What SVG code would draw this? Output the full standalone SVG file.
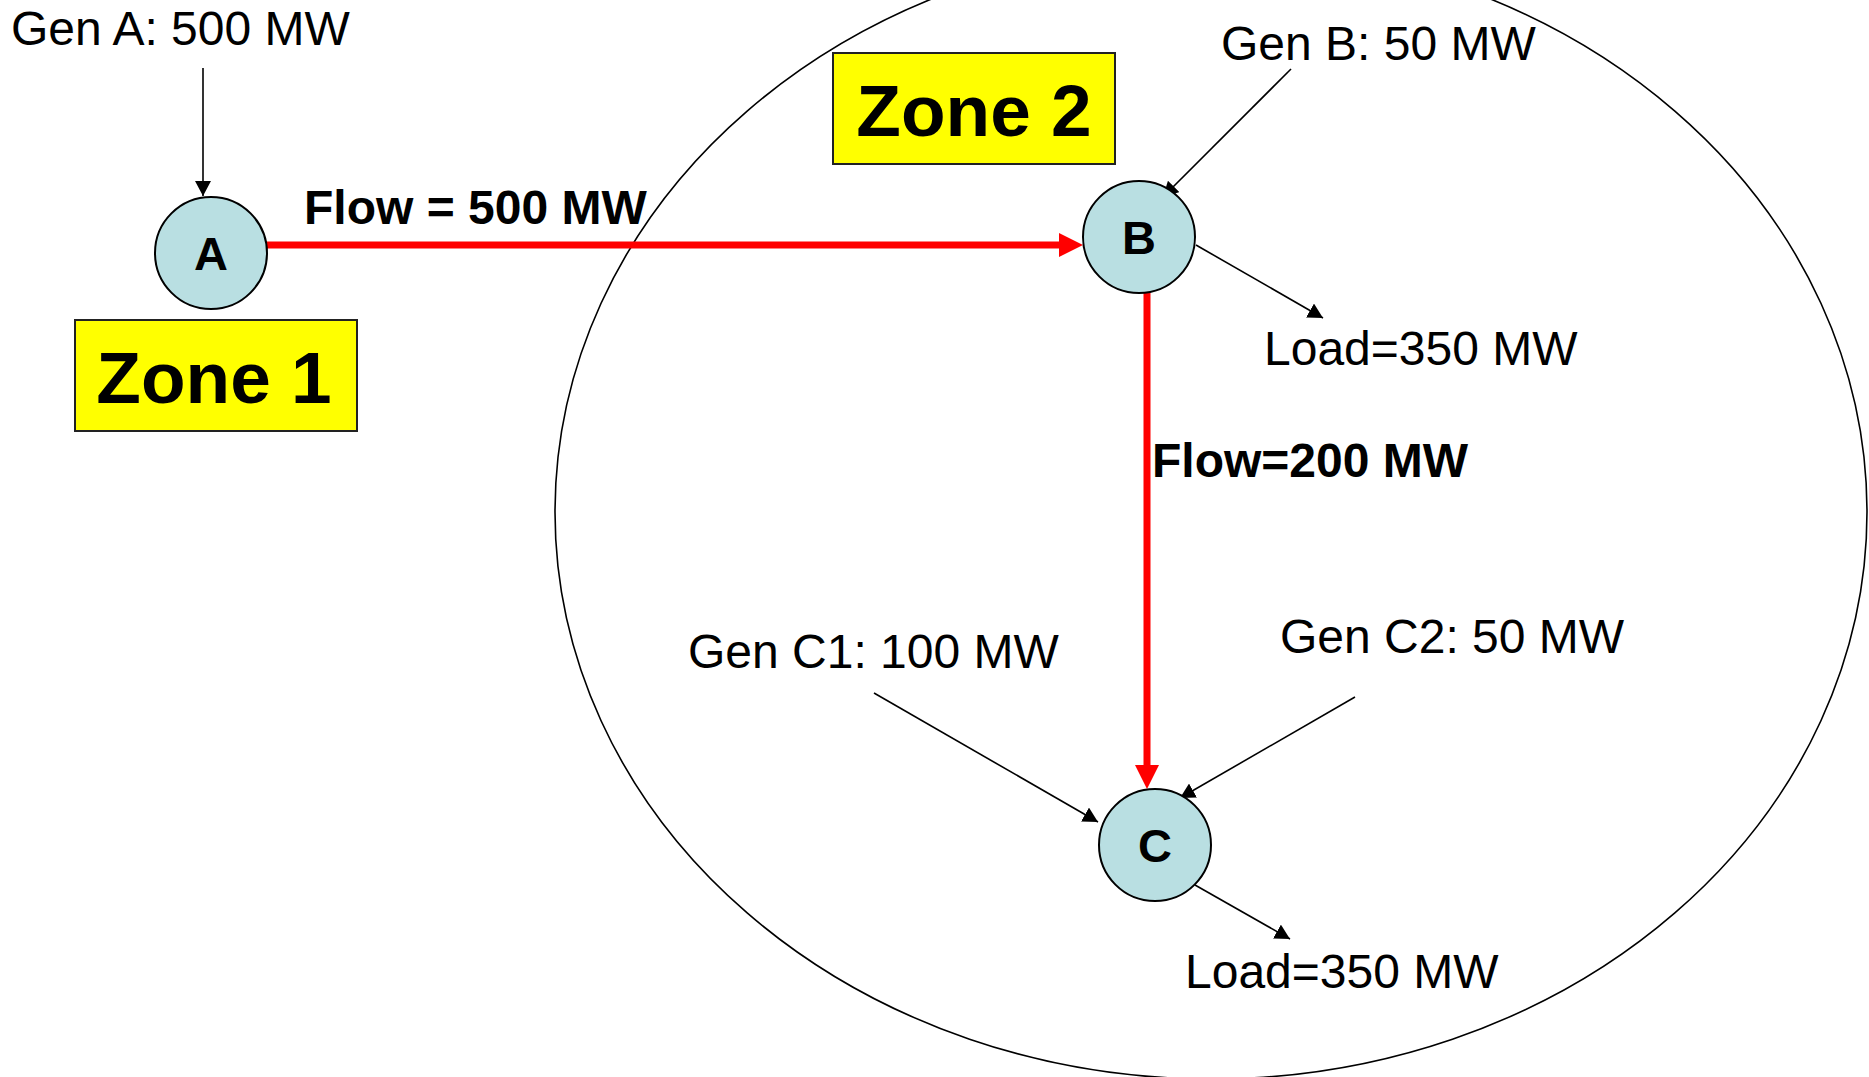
<svg xmlns="http://www.w3.org/2000/svg" width="1869" height="1077" viewBox="0 0 1869 1077">
<style>
.lbl{font-family:"Liberation Sans",Arial,sans-serif;font-size:48px;fill:#000}
.bold{font-weight:bold}
.zone{font-family:"Liberation Sans",Arial,sans-serif;font-size:73px;font-weight:bold;fill:#000;text-anchor:middle}
.node{fill:#B9DFE2;stroke:#000;stroke-width:2}
.nl{font-family:"Liberation Sans",Arial,sans-serif;font-size:47px;font-weight:bold;text-anchor:middle}
.zb{fill:#FFFF00;stroke:#222;stroke-width:2}
.blk{stroke:#000;stroke-width:1.6;fill:none}
.red{stroke:#FF0000;stroke-width:7;fill:none}
</style>
<defs>
<marker id="ah" markerUnits="userSpaceOnUse" markerWidth="16" markerHeight="16" viewBox="0 0 16 16" refX="15" refY="8" orient="auto">
<path d="M0,0 L15,8 L0,16 z" fill="#000"/>
</marker>
<marker id="rh" markerUnits="userSpaceOnUse" markerWidth="25" markerHeight="24" viewBox="0 0 25 24" refX="1" refY="12" orient="auto">
<path d="M0,0 L24,12 L0,24 z" fill="#FF0000"/>
</marker>
</defs>
<rect width="1869" height="1077" fill="#fff"/>
<ellipse id="zone2-boundary" cx="1211" cy="512" rx="656" ry="567" fill="none" stroke="#000" stroke-width="1.6"/>
<g id="zone1"><rect class="zb" x="75" y="320" width="282" height="111"/><text class="zone" x="214" y="403">Zone 1</text></g>
<g id="zone2"><rect class="zb" x="833" y="53" width="282" height="111"/><text class="zone" x="974" y="136">Zone 2</text></g>
<g id="connectors">
<line class="red" x1="266" y1="245" x2="1060" y2="245" marker-end="url(#rh)"/>
<line class="red" x1="1147" y1="292" x2="1147" y2="766" marker-end="url(#rh)"/>
<line class="blk" x1="203" y1="68" x2="203" y2="196" marker-end="url(#ah)"/>
<line class="blk" x1="1291" y1="69" x2="1163" y2="197" marker-end="url(#ah)"/>
<line class="blk" x1="1196" y1="245" x2="1323" y2="318" marker-end="url(#ah)"/>
<line class="blk" x1="874" y1="693" x2="1098" y2="822" marker-end="url(#ah)"/>
<line class="blk" x1="1355" y1="697" x2="1180" y2="798" marker-end="url(#ah)"/>
<line class="blk" x1="1195" y1="885" x2="1290" y2="939" marker-end="url(#ah)"/>
</g>
<g id="node-A"><circle class="node" cx="211" cy="253" r="56"/><text class="nl" x="211" y="270">A</text></g>
<g id="node-B"><circle class="node" cx="1139" cy="237" r="56"/><text class="nl" x="1139" y="254">B</text></g>
<g id="node-C"><circle class="node" cx="1155" cy="845" r="56"/><text class="nl" x="1155" y="862">C</text></g>
<g id="labels">
<text class="lbl" x="11" y="45">Gen A: 500 MW</text>
<text class="lbl bold" x="304" y="224">Flow = 500 MW</text>
<text class="lbl" x="1221" y="60">Gen B: 50 MW</text>
<text class="lbl" x="1264" y="365">Load=350 MW</text>
<text class="lbl bold" x="1152" y="477">Flow=200 MW</text>
<text class="lbl" x="688" y="668">Gen C1: 100 MW</text>
<text class="lbl" x="1280" y="653">Gen C2: 50 MW</text>
<text class="lbl" x="1185" y="988">Load=350 MW</text>
</g>
</svg>
